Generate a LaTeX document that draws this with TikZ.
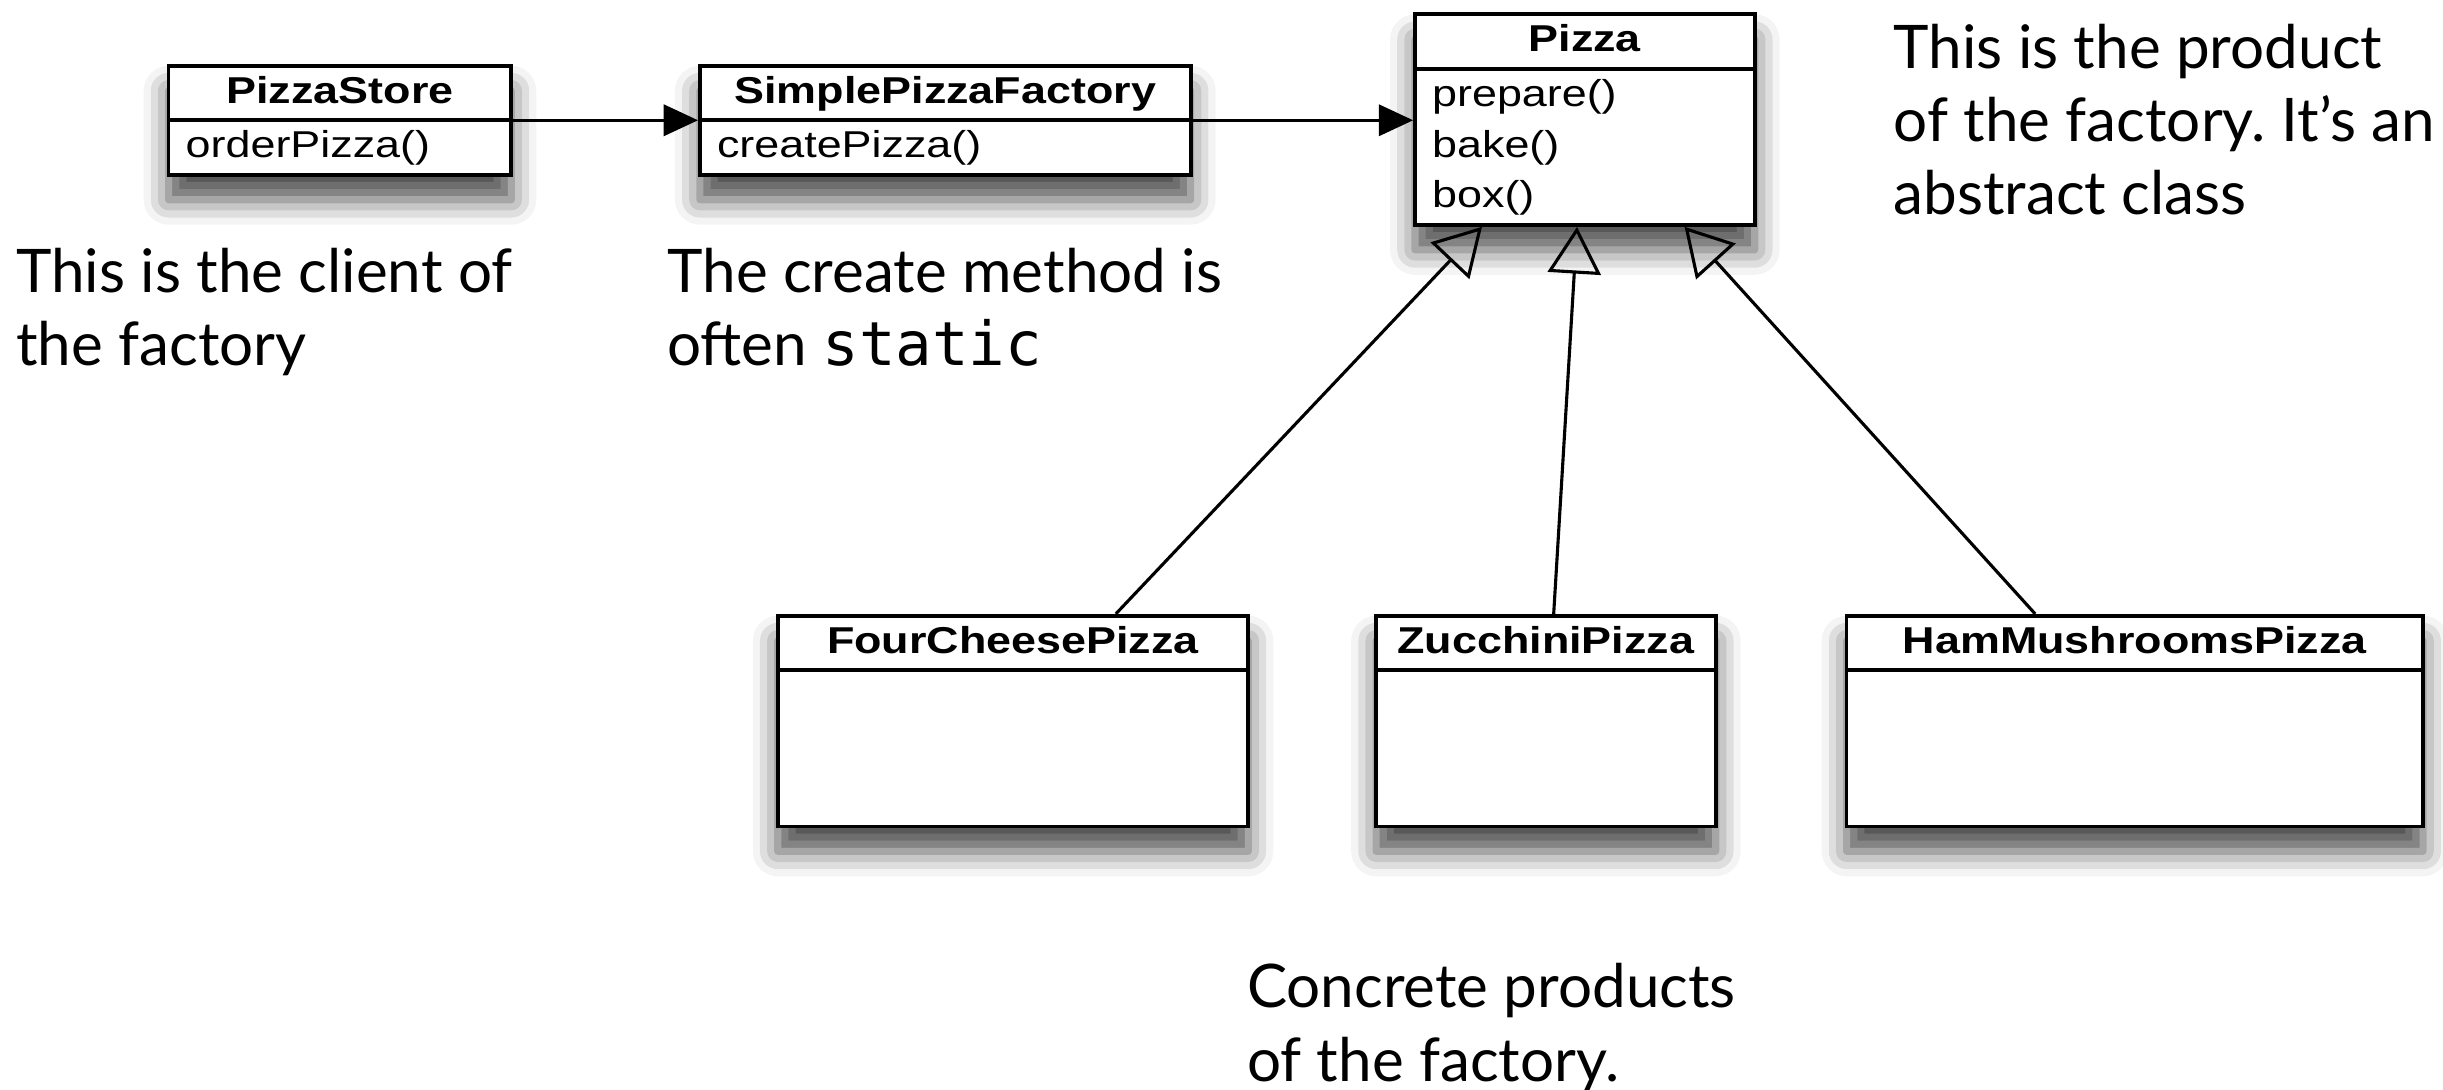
\documentclass[tikz,border=0pt]{standalone}
\usepackage{fontspec}
\setmainfont{Lato}
\newfontfamily\umlfont[FakeStretch=1.2]{Liberation Sans}
\newfontfamily\codefont{DejaVu Sans Mono}
\usetikzlibrary{shapes.multipart, arrows.meta, shadows.blur}
\frenchspacing

\tikzset{
  umlclass/.style={rectangle split, rectangle split parts=2, draw, line width=1.2pt, fill=white,
    inner xsep=5.5pt, inner ysep=0pt, align=left, anchor=north west,
    font=\umlfont\fontsize{12}{16.3}\selectfont,
    blur shadow={shadow xshift=0pt, shadow yshift=-8pt, shadow blur radius=8pt, shadow opacity=70}},
  note/.style={align=left, anchor=north west, inner sep=0pt, font=\fontsize{19.3}{23.5}\selectfont},
  assoc/.style={line width=1pt, -{Triangle[length=11pt, width=10pt]}},
  inherit/.style={line width=1pt, -{Triangle[open, length=15pt, width=17pt]}},
}
\newcommand{\umltitle}[1]{\hspace*{\fill}\textbf{#1}\hspace*{\fill}\strut}

\begin{document}
\begin{tikzpicture}[x=0.5pt, y=-0.5pt]
  \useasboundingbox (0,0) rectangle (1568,699);

  % the classes
  \node[umlclass, text width=99pt] (store) at (107,41) {\umltitle{PizzaStore}\nodepart{two}orderPizza()\strut};
  \node[umlclass, text width=146.5pt] (factory) at (448,41) {\umltitle{SimplePizzaFactory}\nodepart{two}createPizza()\strut};
  \node[umlclass, text width=98pt] (pizza) at (907,8) {\umltitle{Pizza}\nodepart{two}prepare()\strut\\bake()\strut\\box()\strut};
  \node[umlclass, text width=140pt] (four) at (498,394) {\umltitle{FourCheesePizza}\nodepart{two}\strut\\\strut\\\strut};
  \node[umlclass, text width=98pt] (zucchini) at (882,394) {\umltitle{ZucchiniPizza}\nodepart{two}\strut\\\strut\\\strut};
  \node[umlclass, text width=174pt] (ham) at (1184,394) {\umltitle{HamMushroomsPizza}\nodepart{two}\strut\\\strut\\\strut};

  % uses and creates
  \draw[assoc] (store.text split east) -- (factory.text split west);
  \draw[assoc] (factory.text split east) -- (factory.text split east -| pizza.west);

  % subclasses
  \draw[inherit] ([xshift=33pt]four.north) -- ([xshift=-33pt]pizza.south);
  \draw[inherit] ([xshift=2.5pt]zucchini.north) -- ([xshift=-2.5pt]pizza.south);
  \draw[inherit] ([xshift=-32pt]ham.north) -- ([xshift=32pt]pizza.south);

  % notes
  \node[note] (clientnote) at (10,159) {This is the client of\\the factory};
  \node[note] (createnote) at (428,159) {The create method is\\often {\codefont\fontsize{19.5}{23.5}\selectfont static}};
  \node[note] (productnote) at (1215,15) {This is the product\\of the factory. It’s an\\abstract class};
  \node[note] (concretenote) at (800,618) {Concrete products\\of the factory.};
\end{tikzpicture}
\end{document}
